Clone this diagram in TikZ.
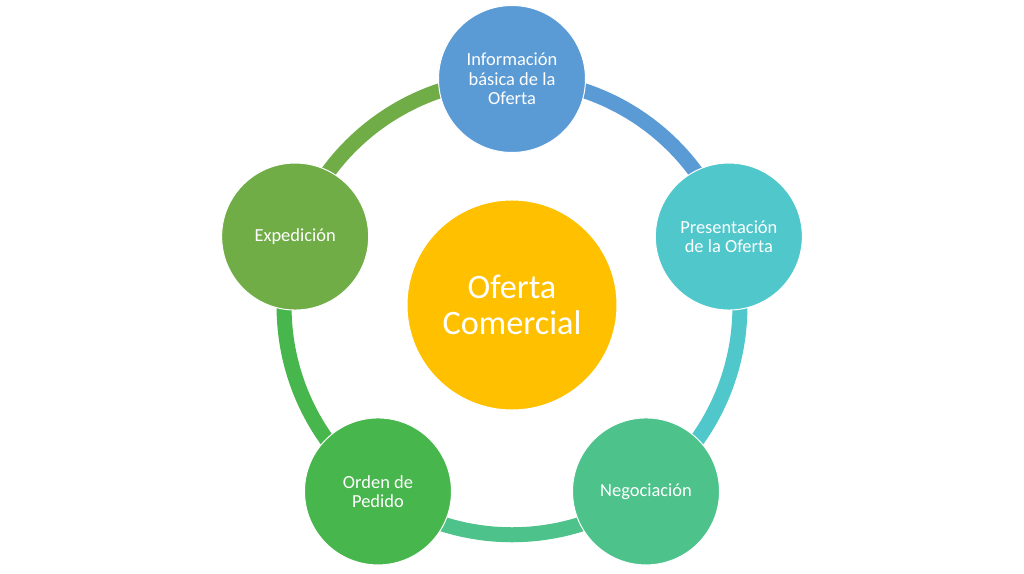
\documentclass[tikz,border=0pt]{standalone}
\usepackage{fontspec}
\setmainfont{Carlito}
\usepackage{xcolor}
\usetikzlibrary{backgrounds}

\definecolor{infoblue}{HTML}{5B9BD5}
\definecolor{prescyan}{HTML}{4FC7CB}
\definecolor{negoteal}{HTML}{4DC28B}
\definecolor{ordengreen}{HTML}{47B64C}
\definecolor{expgreen}{HTML}{70AD47}
\definecolor{ofertagold}{HTML}{FFC000}

\begin{document}
\begin{tikzpicture}[x=0.2mm,y=0.2mm,
    etapa/.style={circle,fill=#1,draw=white,line width=0.2mm,minimum size=29.4mm,
      inner sep=0pt,text=white,align=center,font=\fontsize{10.5}{11.1}\selectfont},
    anillo/.style={draw=#1,line width=3mm,bend left=36,looseness=0.94}]
      \useasboundingbox (0,0) rectangle (1024,574);
      \coordinate (centro) at (512,267);
      % circulo central
      \node[etapa=ofertagold,minimum size=42mm,font=\fontsize{19.5}{20.8}\selectfont]
        (oferta) at (512,269) {Oferta\\Comercial};
      % etapas
      \node[etapa=infoblue] (info) at ([shift={(90:228)}]centro) {Información\\básica de la\\Oferta};
      \node[etapa=prescyan] (pres) at ([shift={(18:228)}]centro) {Presentación\\de la Oferta};
      \node[etapa=negoteal] (nego) at ([shift={(-54:228)}]centro) {Negociación};
      \node[etapa=ordengreen] (orden) at ([shift={(-126:228)}]centro) {Orden de\\Pedido};
      \node[etapa=expgreen] (exped) at ([shift={(162:228)}]centro) {Expedición};
      % anillo
      \begin{scope}[on background layer]
        \fill[white] (0,0) rectangle (1024,574);
        \draw[anillo=infoblue] (info.center) to (pres.center);
        \draw[anillo=prescyan] (pres.center) to (nego.center);
        \draw[anillo=negoteal] (nego.center) to (orden.center);
        \draw[anillo=ordengreen] (orden.center) to (exped.center);
        \draw[anillo=expgreen] (exped.center) to (info.center);
      \end{scope}
\end{tikzpicture}
\end{document}
